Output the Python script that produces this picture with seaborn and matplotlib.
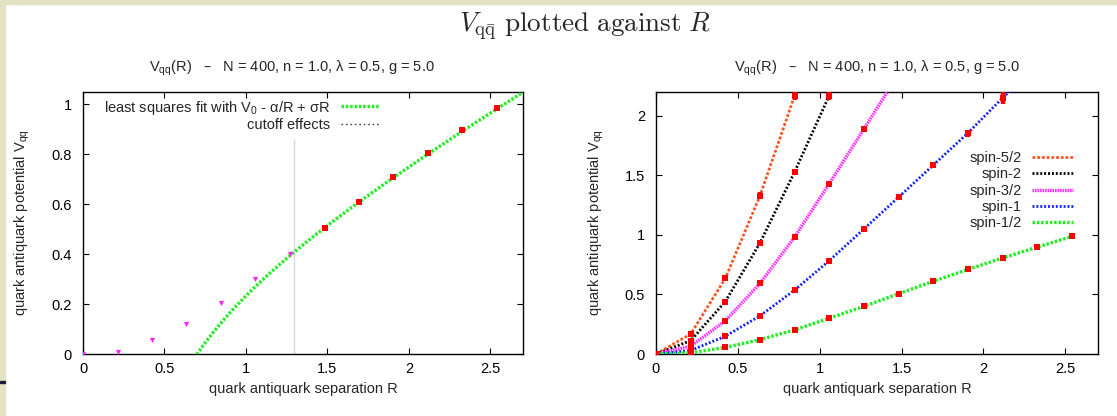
import numpy as np
import pandas as pd
import matplotlib
matplotlib.use("Agg")
import matplotlib.pyplot as plt
import seaborn as sns
from matplotlib.patches import Rectangle
from matplotlib.ticker import FormatStrFormatter

# quark-antiquark separations on the lattice
R = [0.0, 0.212, 0.423, 0.635, 0.847, 1.058, 1.270, 1.482, 1.693, 1.905, 2.117, 2.328, 2.540]

# potential for each representation (last entry of the higher spins lies above the plotted range)
v_half = [0.0, 0.010, 0.055, 0.120, 0.203, 0.300, 0.400, 0.506, 0.610, 0.710, 0.806, 0.897, 0.987]
e_half = [0.0, 0.002, 0.002, 0.003, 0.003, 0.004, 0.004, 0.005, 0.006, 0.007, 0.008, 0.009, 0.012]
v_one = [0.0, 0.030, 0.149, 0.320, 0.537, 0.783, 1.050, 1.317, 1.585, 1.855, 2.150, 2.430]
e_one = [0.0, 0.003, 0.004, 0.005, 0.006, 0.008, 0.010, 0.015, 0.022, 0.030, 0.050, 0.060]
v_three_half = [0.0, 0.065, 0.278, 0.592, 0.983, 1.430, 1.890, 2.350]
e_three_half = [0.0, 0.004, 0.005, 0.007, 0.010, 0.020, 0.025, 0.030]
v_two = [0.0, 0.112, 0.440, 0.932, 1.530, 2.170, 2.800]
e_two = [0.0, 0.005, 0.008, 0.012, 0.025, 0.040, 0.050]
v_five_half = [0.0, 0.168, 0.634, 1.328, 2.170, 3.000]
e_five_half = [0.0, 0.006, 0.010, 0.030, 0.040, 0.050]

# fit V0 - alpha/R + sigma*R to the spin-1/2 data beyond the cutoff
fit_V0, fit_alpha, fit_sigma = 0.138, 0.281, 0.376
cutoff_R = 1.295
cutoff_top = 0.86
n_cut = 7  # points with index < n_cut are affected by the cutoff

subtitle = "V$_{\\mathregular{qq}}$(R)   \u2013   N = 400, n = 1.0, \u03bb = 0.5, g = 5.0"
xlabel = "quark antiquark separation R"
ylabel = "quark antiquark potential V$_{\\mathregular{qq}}$"

sns.set_theme(style="ticks")
plt.rcParams["font.family"] = ["Liberation Sans", "DejaVu Sans"]
plt.rcParams["font.size"] = 10.5

W, H = 1117, 416
fig = plt.figure(figsize=(W / 100, H / 100), dpi=100)
fig.patch.set_facecolor("white")

# slide frame
beige = "#e4e3c6"
fig.patches.append(Rectangle((0, 0), 5 / W, 1, transform=fig.transFigure, color=beige, zorder=0))
fig.patches.append(Rectangle((0, 1 - 4 / H), 1, 4 / H, transform=fig.transFigure, color=beige, zorder=0))
fig.patches.append(Rectangle((0, (H - 383) / H), 5 / W, 2 / H, transform=fig.transFigure,
                             color="#1b1b3a", zorder=1))

ax1 = fig.add_axes([83 / W, (H - 354) / H, 440 / W, 262 / H])
ax2 = fig.add_axes([656 / W, (H - 354) / H, 442 / W, 262 / H])


def style_axes(ax, ymax, yticks):
    ax.set_xlim(0, 2.7)
    ax.set_ylim(0, ymax)
    ax.set_xticks([0, 0.5, 1, 1.5, 2, 2.5])
    ax.set_yticks(yticks)
    ax.xaxis.set_major_formatter(FormatStrFormatter("%g"))
    ax.yaxis.set_major_formatter(FormatStrFormatter("%g"))
    ax.tick_params(direction="in", length=4, width=0.8, top=True, right=True,
                   labelsize=10.5, colors="black")
    ax.tick_params(axis="y", pad=8)
    ax.tick_params(axis="x", pad=6)
    for sp in ax.spines.values():
        sp.set_visible(True)
        sp.set_linewidth(1.0)
        sp.set_color("black")
    ax.set_xlabel(xlabel, fontsize=10.5)
    ax.set_ylabel(ylabel, fontsize=10.5)
    ax.xaxis.set_label_coords(0.5, -0.105)
    ax.grid(False)


def red_points(ax, x, y, e):
    ax.errorbar(x, y, yerr=e, fmt="none", ecolor="red", elinewidth=3.2, capsize=0, zorder=5)
    sns.scatterplot(x=x, y=y, ax=ax, marker="s", color="red", s=24, linewidth=0, zorder=6)


# ---- left panel: spin-1/2 with fit ----
r_fit = np.linspace(0.6, 2.75, 300)
v_fit = fit_V0 - fit_alpha / r_fit + fit_sigma * r_fit
sns.lineplot(x=r_fit, y=v_fit, ax=ax1, color="#22ee22", lw=2.4, linestyle=(0, (0.75, 0.55)),
             label="least squares fit with V$_{\\mathregular{0}}$ - \u03b1/R + \u03c3R",
             sort=False, zorder=3)
sns.lineplot(x=[cutoff_R, cutoff_R], y=[0, cutoff_top], ax=ax1, color="#444444", lw=1.0,
             linestyle=(0, (1.2, 2.0)), label="cutoff effects", sort=False, zorder=2,
             snap=True)
sns.scatterplot(x=R[:n_cut], y=v_half[:n_cut], ax=ax1, marker="v", color="#ff22ff", s=14,
                linewidth=0, zorder=6)
red_points(ax1, R[n_cut:], v_half[n_cut:], e_half[n_cut:])
style_axes(ax1, 1.05, [0, 0.2, 0.4, 0.6, 0.8, 1])
ax1.yaxis.set_label_coords(-0.115, 0.5)
ax1.legend(loc="upper right", bbox_to_anchor=(0.675, 0.975), frameon=False, markerfirst=False,
           handlelength=2.7, handletextpad=0.7, labelspacing=0.1, borderpad=0, borderaxespad=0,
           fontsize=10.5)

# ---- right panel: all representations ----
series = [
    ("spin-5/2", v_five_half, e_five_half, "#ff5522", 2.0, (0, (1.0, 0.7))),
    ("spin-2", v_two, e_two, "black", 2.0, (0, (0.7, 0.7))),
    ("spin-3/2", v_three_half, e_three_half, "#ff33ff", 2.4, (0, (0.5, 0.25))),
    ("spin-1", v_one, e_one, "#1122ff", 2.0, (0, (0.7, 0.7))),
    ("spin-1/2", v_half, e_half, "#22ee22", 2.4, (0, (0.75, 0.55))),
]
for name, v, e, col, lw, ls in series:
    sns.lineplot(x=R[:len(v)], y=v, ax=ax2, color=col, lw=lw, linestyle=ls, label=name,
                 sort=False, zorder=3)
for name, v, e, col, lw, ls in series:
    red_points(ax2, R[:len(v)], v, e)
style_axes(ax2, 2.2, [0, 0.5, 1, 1.5, 2])
ax2.yaxis.set_label_coords(-0.112, 0.5)
ax2.legend(loc="upper right", bbox_to_anchor=(0.943, 0.775), frameon=False, markerfirst=False,
           handlelength=2.8, handletextpad=0.7, labelspacing=0.16, borderpad=0, borderaxespad=0,
           fontsize=10.5)

# titles
fig.text(292 / W, 1 - 68 / H, subtitle, ha="center", va="center", fontsize=10.5)
fig.text(877 / W, 1 - 68 / H, subtitle, ha="center", va="center", fontsize=10.5)
fig.text(585 / W, 1 - 27 / H,
         r"$V_{\mathrm{q\bar{q}}}\ \mathrm{plotted\ against}\ R$",
         math_fontfamily="cm", ha="center", va="center", fontsize=19.5)

fig.savefig("out.png", dpi=100, facecolor="white")
